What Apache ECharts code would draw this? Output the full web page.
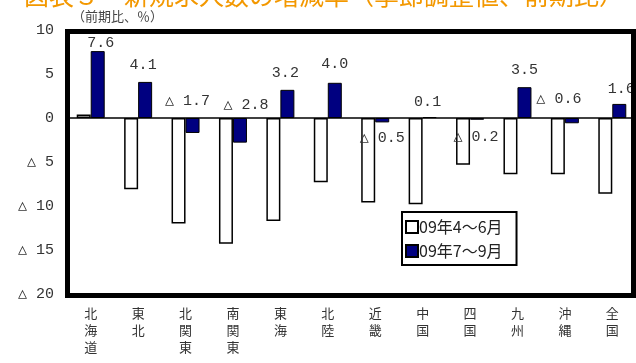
<!DOCTYPE html>
<html>
<head>
<meta charset="utf-8">
<script src="https://cdn.jsdelivr.net/npm/echarts@6/dist/echarts.min.js"></script>
<style>
  html, body { margin: 0; padding: 0; background: #fff; }
  #chart { width: 636px; height: 363px; }
</style>
</head>
<body>
<div id="chart"></div>
<script>
// 地域別 新規求人数の増減率（前期比、%）
const categories = ['北海道', '東北', '北関東', '南関東', '東海', '北陸', '近畿', '中国', '四国', '九州', '沖縄', '全国'];
const seriesNames = ['09年4～6月', '09年7～9月'];
const aprJun = [0.4, -8.1, -12.0, -14.3, -11.7, -7.3, -9.6, -9.8, -5.3, -6.4, -6.4, -8.6];
const julSep = [7.6, 4.1, -1.7, -2.8, 3.2, 4.0, -0.5, 0.1, -0.2, 3.5, -0.6, 1.6];

// label nudges for the 7-9 bars (style only)
const labelOffsets = [[3, 4], [-2, -4], [-5, -4], [6, 0], [-2, -4], [0, -6], [0, 33], [-2, -3], [-1, 32], [0, -5], [-13, -6], [2, -2]];

const numFont = '"Liberation Mono", "DejaVu Sans Mono", "Noto Sans CJK JP", monospace';
const jpFont = '"Noto Sans CJK JP", sans-serif';
const fmt = v => v < 0 ? '△ ' + (-v).toFixed(1) : v.toFixed(1);

const chart = echarts.init(document.getElementById('chart'));

chart.setOption({
  animation: false,
  grid: { left: 67, right: 0, top: 30, bottom: 69 },
  legend: {
    orient: 'vertical',
    left: 402,
    top: 212,
    icon: 'rect',
    padding: [7, 14, 6, 3],
    itemGap: 8,
    itemWidth: 12,
    itemHeight: 12,
    borderColor: '#000',
    borderWidth: 2,
    backgroundColor: '#fff',
    data: seriesNames,
    textStyle: { fontSize: 16, fontFamily: jpFont, color: '#222', padding: [0, 0, 0, -4] }
  },
  xAxis: {
    type: 'category',
    data: categories,
    axisLine: { show: false },
    axisTick: { show: false },
    axisLabel: {
      interval: 0,
      margin: 11,
      fontSize: 13,
      lineHeight: 17,
      verticalAlign: 'top',
      color: '#333',
      fontFamily: jpFont,
      formatter: s => s.split('').join('\n')
    },
    splitLine: {
      show: true,
      interval: i => i === 11,
      lineStyle: { color: '#000', width: 1.5, type: [6, 4] }
    }
  },
  yAxis: {
    type: 'value',
    min: -20,
    max: 10,
    interval: 5,
    axisLine: { show: false },
    axisTick: { show: false },
    splitLine: { show: false },
    axisLabel: {
      margin: 13,
      fontSize: 15,
      color: '#333',
      fontFamily: numFont,
      formatter: v => v < 0 ? '△ ' + (-v) : String(v)
    }
  },
  series: [
    {
      name: seriesNames[0],
      type: 'bar',
      barWidth: 14,
      barGap: '0%',
      data: aprJun,
      itemStyle: { color: '#fff', borderColor: '#000', borderWidth: 1.5 },
      markLine: {
        silent: true,
        symbol: 'none',
        label: { show: false },
        lineStyle: { color: '#000', width: 1.5, type: 'solid' },
        data: [{ yAxis: 0 }]
      }
    },
    {
      name: seriesNames[1],
      type: 'bar',
      barWidth: 14,
      barGap: '0%',
      data: julSep.map((v, i) => ({
        value: v,
        label: { offset: labelOffsets[i] }
      })),
      itemStyle: { color: '#000080', borderColor: '#000', borderWidth: 1 },
      label: {
        show: true,
        position: 'top',
        fontSize: 15,
        color: '#333',
        fontFamily: numFont,
        formatter: p => fmt(p.value)
      }
    }
  ],
  graphic: [
    {
      type: 'text',
      left: 24,
      top: -17,
      style: {
        text: '図表３　新規求人数の増減率（季節調整値、前期比）',
        fontSize: 25,
        fontFamily: jpFont,
        fill: '#f39800'
      }
    },
    {
      type: 'text',
      left: 72,
      top: 10,
      style: {
        text: '（前期比、％）',
        fontSize: 13,
        fontFamily: jpFont,
        fill: '#444'
      }
    },
    {
      type: 'rect',
      z: 10,
      shape: { x: 67.5, y: 31.5, width: 566, height: 264 },
      style: { fill: 'none', stroke: '#000', lineWidth: 5 }
    }
  ]
});
</script>
</body>
</html>
